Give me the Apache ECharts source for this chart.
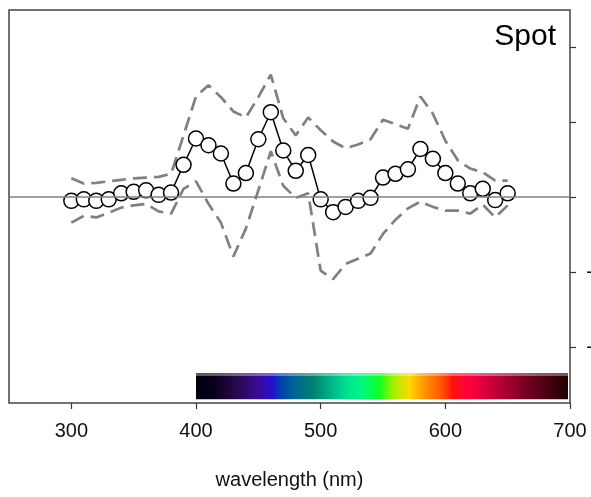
<!DOCTYPE html>
<html>
<head>
<meta charset="utf-8">
<script src="https://cdn.jsdelivr.net/npm/echarts@6/dist/echarts.min.js"></script>
<style>
  html, body { margin: 0; padding: 0; background: #fff; }
  #chart { width: 591px; height: 497px; }
</style>
</head>
<body>
<div id="chart"></div>
<script>
// wavelength (nm)
var wavelengths = [300, 310, 320, 330, 340, 350, 360, 370, 380, 390, 400, 410, 420, 430, 440, 450, 460, 470,
                   480, 490, 500, 510, 520, 530, 540, 550, 560, 570, 580, 590, 600, 610, 620, 630, 640, 650];
var meanValues = [-0.05, -0.03, -0.05, -0.03, 0.05, 0.07, 0.09, 0.03, 0.06, 0.43, 0.78, 0.69, 0.58, 0.18, 0.32, 0.77, 1.13, 0.62,
                  0.35, 0.56, -0.03, -0.20, -0.13, -0.05, -0.01, 0.26, 0.31, 0.37, 0.64, 0.51, 0.32, 0.18, 0.05, 0.11, -0.04, 0.05];
var upperValues = [0.25, 0.18, 0.19, 0.21, 0.23, 0.25, 0.26, 0.27, 0.31, 0.82, 1.34, 1.49, 1.33, 1.14, 1.06, 1.33, 1.63, 1.05,
                   0.82, 1.06, 0.89, 0.74, 0.65, 0.70, 0.77, 1.03, 0.97, 0.91, 1.34, 1.11, 0.75, 0.49, 0.38, 0.33, 0.22, 0.22];
var lowerValues = [-0.34, -0.25, -0.27, -0.21, -0.14, -0.11, -0.09, -0.19, -0.22, 0.11, 0.21, -0.09, -0.34, -0.79, -0.42, 0.09, 0.61, 0.15,
                   -0.01, 0.05, -0.98, -1.09, -0.89, -0.82, -0.75, -0.49, -0.30, -0.15, -0.06, -0.13, -0.18, -0.18, -0.22, -0.10, -0.27, -0.11];
var xTicks = [300, 400, 500, 600, 700];
var yTicks = [-2, -1, 0, 1, 2];
// visible spectrum strip
var spectrumRange = [400, 700];
var spectrumStops = [
  [400, '#000010'], [414, '#080018'], [433, '#280a50'], [452, '#3a0aa0'], [462, '#2010d0'],
  [468, '#0040b0'], [481, '#006890'], [494, '#008070'], [508, '#00b088'], [521, '#00e090'],
  [533, '#00f888'], [548, '#10ff20'], [559, '#a0f000'], [572, '#ffd800'], [585, '#ff9000'],
  [599, '#ff5000'], [607, '#ff1010'], [620, '#ff0040'], [642, '#c00038'], [668, '#700020'],
  [700, '#200000']
];

function pairs(ys) {
  return wavelengths.map(function (x, i) { return [x, ys[i]]; });
}

var chart = echarts.init(document.getElementById('chart'));
var font = 'Liberation Sans, Arial, sans-serif';
var dashStyle = { color: '#808080', width: 2.7, type: [14, 7] };

var option = {
  animation: false,
  backgroundColor: '#fff',
  textStyle: { fontFamily: font },
  title: {
    text: 'Spot',
    right: 35,
    top: 22,
    padding: 0,
    textStyle: { fontFamily: font, fontSize: 30, fontWeight: 'normal', color: '#000' }
  },
  grid: {
    left: 9, right: 21, top: 10, bottom: 94,
    containLabel: false,
    outerBoundsMode: 'none',
    show: true, borderColor: '#444', borderWidth: 1.5, backgroundColor: '#fff'
  },
  xAxis: {
    type: 'value',
    position: 'bottom',
    min: 250, max: 700,
    name: 'wavelength (nm)',
    nameLocation: 'middle',
    nameGap: 67,
    nameTextStyle: { fontFamily: font, fontSize: 20, color: '#111' },
    axisLine: { show: false, onZero: false },
    splitLine: { show: false },
    axisTick: { show: true, inside: false, length: 6, lineStyle: { color: '#333', width: 1.2 }, customValues: xTicks },
    axisLabel: { fontFamily: font, fontSize: 20, color: '#111', margin: 18, customValues: xTicks }
  },
  yAxis: {
    type: 'value',
    position: 'right',
    min: -2.74, max: 2.49,
    axisLine: { show: false, onZero: false },
    splitLine: { show: false },
    axisTick: { show: true, inside: false, length: 6, lineStyle: { color: '#333', width: 1.2 }, customValues: yTicks },
    axisLabel: { fontFamily: font, fontSize: 20, color: '#111', margin: 34, align: 'right', customValues: yTicks }
  },
  series: [
    {
      type: 'custom',
      silent: true,
      z: 1,
      data: [spectrumRange],
      renderItem: function (params, api) {
        var p0 = api.coord([api.value(0), -2.34]);
        var p1 = api.coord([api.value(1), -2.69]);
        var span = spectrumRange[1] - spectrumRange[0];
        var stops = spectrumStops.map(function (s) {
          return { offset: (s[0] - spectrumRange[0]) / span, color: s[1] };
        });
        return {
          type: 'group',
          children: [
            {
              type: 'rect',
              shape: { x: p0[0], y: p0[1], width: p1[0] - p0[0] - 2, height: p1[1] - p0[1] },
              style: { fill: new echarts.graphic.LinearGradient(0, 0, 1, 0, stops) }
            },
            {
              type: 'rect',
              shape: { x: p0[0], y: p0[1], width: p1[0] - p0[0] - 2, height: 3 },
              style: { fill: 'rgba(255,255,255,0.35)' }
            }
          ]
        };
      }
    },
    {
      name: 'upper',
      type: 'line',
      z: 2,
      data: pairs(upperValues),
      symbol: 'none',
      lineStyle: dashStyle,
      markLine: {
        silent: true,
        symbol: 'none',
        label: { show: false },
        lineStyle: { color: '#808080', width: 1.5, type: 'solid' },
        data: [{ yAxis: 0 }]
      }
    },
    {
      name: 'lower',
      type: 'line',
      z: 2,
      data: pairs(lowerValues),
      symbol: 'none',
      lineStyle: dashStyle
    },
    {
      name: 'mean',
      type: 'line',
      z: 3,
      data: pairs(meanValues),
      symbol: 'circle',
      symbolSize: 15,
      lineStyle: { color: '#000', width: 1.5 },
      itemStyle: { color: '#fff', borderColor: '#000', borderWidth: 1.5 }
    }
  ]
};

chart.setOption(option);
</script>
</body>
</html>
